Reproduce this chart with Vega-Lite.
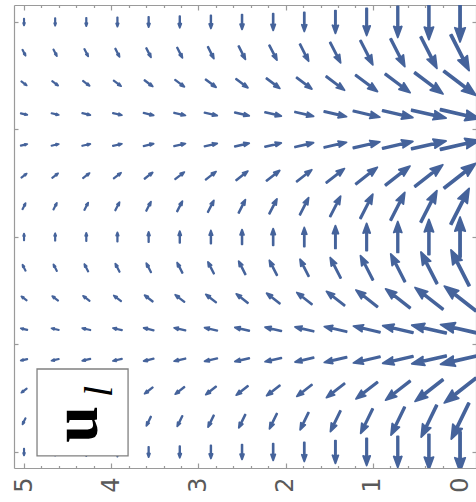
{
  "$schema": "https://vega.github.io/schema/vega-lite/v6.json",
  "width": 462,
  "height": 463,
  "autosize": {"type": "none"},
  "padding": {"left": 14, "top": 5, "right": 0, "bottom": 34},
  "background": "white",
  "config": {
    "view": {"stroke": null},
    "axis": {
      "domainColor": "#9a9a9a",
      "domainWidth": 1.2,
      "tickColor": "#9a9a9a",
      "tickWidth": 1.2,
      "grid": false,
      "title": null
    }
  },
  "layer": [
    {
      "data": {"values": [
        {"x":5,"y":4,"dir":180,"mag":0.167},{"x":4.643,"y":4,"dir":180,"mag":0.186},{"x":4.286,"y":4,"dir":180,"mag":0.207},{"x":3.929,"y":4,"dir":180,"mag":0.231},{"x":3.571,"y":4,"dir":180,"mag":0.257},{"x":3.214,"y":4,"dir":180,"mag":0.29},{"x":2.857,"y":4,"dir":180,"mag":0.326},{"x":2.5,"y":4,"dir":180,"mag":0.369},{"x":2.143,"y":4,"dir":180,"mag":0.417},{"x":1.786,"y":4,"dir":180,"mag":0.476},{"x":1.429,"y":4,"dir":180,"mag":0.571},{"x":1.071,"y":4,"dir":180,"mag":0.679},{"x":0.714,"y":4,"dir":180,"mag":0.774},{"x":0.357,"y":4,"dir":180,"mag":0.881},{"x":0,"y":4,"dir":180,"mag":1},
        {"x":5,"y":3.714,"dir":153,"mag":0.167},{"x":4.643,"y":3.714,"dir":153,"mag":0.186},{"x":4.286,"y":3.714,"dir":153,"mag":0.207},{"x":3.929,"y":3.714,"dir":153,"mag":0.231},{"x":3.571,"y":3.714,"dir":153,"mag":0.257},{"x":3.214,"y":3.714,"dir":153,"mag":0.29},{"x":2.857,"y":3.714,"dir":153,"mag":0.326},{"x":2.5,"y":3.714,"dir":153,"mag":0.369},{"x":2.143,"y":3.714,"dir":153,"mag":0.417},{"x":1.786,"y":3.714,"dir":153,"mag":0.476},{"x":1.429,"y":3.714,"dir":153,"mag":0.571},{"x":1.071,"y":3.714,"dir":153,"mag":0.679},{"x":0.714,"y":3.714,"dir":153,"mag":0.774},{"x":0.357,"y":3.714,"dir":153,"mag":0.881},{"x":0,"y":3.714,"dir":153,"mag":1},
        {"x":5,"y":3.429,"dir":127,"mag":0.167},{"x":4.643,"y":3.429,"dir":127,"mag":0.186},{"x":4.286,"y":3.429,"dir":127,"mag":0.207},{"x":3.929,"y":3.429,"dir":127,"mag":0.231},{"x":3.571,"y":3.429,"dir":127,"mag":0.257},{"x":3.214,"y":3.429,"dir":127,"mag":0.29},{"x":2.857,"y":3.429,"dir":127,"mag":0.326},{"x":2.5,"y":3.429,"dir":127,"mag":0.369},{"x":2.143,"y":3.429,"dir":127,"mag":0.417},{"x":1.786,"y":3.429,"dir":127,"mag":0.476},{"x":1.429,"y":3.429,"dir":127,"mag":0.571},{"x":1.071,"y":3.429,"dir":127,"mag":0.679},{"x":0.714,"y":3.429,"dir":127,"mag":0.774},{"x":0.357,"y":3.429,"dir":127,"mag":0.881},{"x":0,"y":3.429,"dir":127,"mag":1},
        {"x":5,"y":3.143,"dir":103,"mag":0.167},{"x":4.643,"y":3.143,"dir":103,"mag":0.186},{"x":4.286,"y":3.143,"dir":103,"mag":0.207},{"x":3.929,"y":3.143,"dir":103,"mag":0.231},{"x":3.571,"y":3.143,"dir":103,"mag":0.257},{"x":3.214,"y":3.143,"dir":103,"mag":0.29},{"x":2.857,"y":3.143,"dir":103,"mag":0.326},{"x":2.5,"y":3.143,"dir":103,"mag":0.369},{"x":2.143,"y":3.143,"dir":103,"mag":0.417},{"x":1.786,"y":3.143,"dir":103,"mag":0.476},{"x":1.429,"y":3.143,"dir":103,"mag":0.571},{"x":1.071,"y":3.143,"dir":103,"mag":0.679},{"x":0.714,"y":3.143,"dir":103,"mag":0.774},{"x":0.357,"y":3.143,"dir":103,"mag":0.881},{"x":0,"y":3.143,"dir":103,"mag":1},
        {"x":5,"y":2.857,"dir":77,"mag":0.167},{"x":4.643,"y":2.857,"dir":77,"mag":0.186},{"x":4.286,"y":2.857,"dir":77,"mag":0.207},{"x":3.929,"y":2.857,"dir":77,"mag":0.231},{"x":3.571,"y":2.857,"dir":77,"mag":0.257},{"x":3.214,"y":2.857,"dir":77,"mag":0.29},{"x":2.857,"y":2.857,"dir":77,"mag":0.326},{"x":2.5,"y":2.857,"dir":77,"mag":0.369},{"x":2.143,"y":2.857,"dir":77,"mag":0.417},{"x":1.786,"y":2.857,"dir":77,"mag":0.476},{"x":1.429,"y":2.857,"dir":77,"mag":0.571},{"x":1.071,"y":2.857,"dir":77,"mag":0.679},{"x":0.714,"y":2.857,"dir":77,"mag":0.774},{"x":0.357,"y":2.857,"dir":77,"mag":0.881},{"x":0,"y":2.857,"dir":77,"mag":1},
        {"x":5,"y":2.571,"dir":52,"mag":0.167},{"x":4.643,"y":2.571,"dir":52,"mag":0.186},{"x":4.286,"y":2.571,"dir":52,"mag":0.207},{"x":3.929,"y":2.571,"dir":52,"mag":0.231},{"x":3.571,"y":2.571,"dir":52,"mag":0.257},{"x":3.214,"y":2.571,"dir":52,"mag":0.29},{"x":2.857,"y":2.571,"dir":52,"mag":0.326},{"x":2.5,"y":2.571,"dir":52,"mag":0.369},{"x":2.143,"y":2.571,"dir":52,"mag":0.417},{"x":1.786,"y":2.571,"dir":52,"mag":0.476},{"x":1.429,"y":2.571,"dir":52,"mag":0.571},{"x":1.071,"y":2.571,"dir":52,"mag":0.679},{"x":0.714,"y":2.571,"dir":52,"mag":0.774},{"x":0.357,"y":2.571,"dir":52,"mag":0.881},{"x":0,"y":2.571,"dir":52,"mag":1},
        {"x":5,"y":2.286,"dir":27,"mag":0.167},{"x":4.643,"y":2.286,"dir":27,"mag":0.186},{"x":4.286,"y":2.286,"dir":27,"mag":0.207},{"x":3.929,"y":2.286,"dir":27,"mag":0.231},{"x":3.571,"y":2.286,"dir":27,"mag":0.257},{"x":3.214,"y":2.286,"dir":27,"mag":0.29},{"x":2.857,"y":2.286,"dir":27,"mag":0.326},{"x":2.5,"y":2.286,"dir":27,"mag":0.369},{"x":2.143,"y":2.286,"dir":27,"mag":0.417},{"x":1.786,"y":2.286,"dir":27,"mag":0.476},{"x":1.429,"y":2.286,"dir":27,"mag":0.571},{"x":1.071,"y":2.286,"dir":27,"mag":0.679},{"x":0.714,"y":2.286,"dir":27,"mag":0.774},{"x":0.357,"y":2.286,"dir":27,"mag":0.881},{"x":0,"y":2.286,"dir":27,"mag":1},
        {"x":5,"y":2,"dir":0,"mag":0.167},{"x":4.643,"y":2,"dir":0,"mag":0.186},{"x":4.286,"y":2,"dir":0,"mag":0.207},{"x":3.929,"y":2,"dir":0,"mag":0.231},{"x":3.571,"y":2,"dir":0,"mag":0.257},{"x":3.214,"y":2,"dir":0,"mag":0.29},{"x":2.857,"y":2,"dir":0,"mag":0.326},{"x":2.5,"y":2,"dir":0,"mag":0.369},{"x":2.143,"y":2,"dir":0,"mag":0.417},{"x":1.786,"y":2,"dir":0,"mag":0.476},{"x":1.429,"y":2,"dir":0,"mag":0.571},{"x":1.071,"y":2,"dir":0,"mag":0.679},{"x":0.714,"y":2,"dir":0,"mag":0.774},{"x":0.357,"y":2,"dir":0,"mag":0.881},{"x":0,"y":2,"dir":0,"mag":1},
        {"x":5,"y":1.714,"dir":333,"mag":0.167},{"x":4.643,"y":1.714,"dir":333,"mag":0.186},{"x":4.286,"y":1.714,"dir":333,"mag":0.207},{"x":3.929,"y":1.714,"dir":333,"mag":0.231},{"x":3.571,"y":1.714,"dir":333,"mag":0.257},{"x":3.214,"y":1.714,"dir":333,"mag":0.29},{"x":2.857,"y":1.714,"dir":333,"mag":0.326},{"x":2.5,"y":1.714,"dir":333,"mag":0.369},{"x":2.143,"y":1.714,"dir":333,"mag":0.417},{"x":1.786,"y":1.714,"dir":333,"mag":0.476},{"x":1.429,"y":1.714,"dir":333,"mag":0.571},{"x":1.071,"y":1.714,"dir":333,"mag":0.679},{"x":0.714,"y":1.714,"dir":333,"mag":0.774},{"x":0.357,"y":1.714,"dir":333,"mag":0.881},{"x":0,"y":1.714,"dir":333,"mag":1},
        {"x":5,"y":1.429,"dir":308,"mag":0.167},{"x":4.643,"y":1.429,"dir":308,"mag":0.186},{"x":4.286,"y":1.429,"dir":308,"mag":0.207},{"x":3.929,"y":1.429,"dir":308,"mag":0.231},{"x":3.571,"y":1.429,"dir":308,"mag":0.257},{"x":3.214,"y":1.429,"dir":308,"mag":0.29},{"x":2.857,"y":1.429,"dir":308,"mag":0.326},{"x":2.5,"y":1.429,"dir":308,"mag":0.369},{"x":2.143,"y":1.429,"dir":308,"mag":0.417},{"x":1.786,"y":1.429,"dir":308,"mag":0.476},{"x":1.429,"y":1.429,"dir":308,"mag":0.571},{"x":1.071,"y":1.429,"dir":308,"mag":0.679},{"x":0.714,"y":1.429,"dir":308,"mag":0.774},{"x":0.357,"y":1.429,"dir":308,"mag":0.881},{"x":0,"y":1.429,"dir":308,"mag":1},
        {"x":5,"y":1.143,"dir":283,"mag":0.167},{"x":4.643,"y":1.143,"dir":283,"mag":0.186},{"x":4.286,"y":1.143,"dir":283,"mag":0.207},{"x":3.929,"y":1.143,"dir":283,"mag":0.231},{"x":3.571,"y":1.143,"dir":283,"mag":0.257},{"x":3.214,"y":1.143,"dir":283,"mag":0.29},{"x":2.857,"y":1.143,"dir":283,"mag":0.326},{"x":2.5,"y":1.143,"dir":283,"mag":0.369},{"x":2.143,"y":1.143,"dir":283,"mag":0.417},{"x":1.786,"y":1.143,"dir":283,"mag":0.476},{"x":1.429,"y":1.143,"dir":283,"mag":0.571},{"x":1.071,"y":1.143,"dir":283,"mag":0.679},{"x":0.714,"y":1.143,"dir":283,"mag":0.774},{"x":0.357,"y":1.143,"dir":283,"mag":0.881},{"x":0,"y":1.143,"dir":283,"mag":1},
        {"x":5,"y":0.857,"dir":257,"mag":0.167},{"x":4.643,"y":0.857,"dir":257,"mag":0.186},{"x":4.286,"y":0.857,"dir":257,"mag":0.207},{"x":3.929,"y":0.857,"dir":257,"mag":0.231},{"x":3.571,"y":0.857,"dir":257,"mag":0.257},{"x":3.214,"y":0.857,"dir":257,"mag":0.29},{"x":2.857,"y":0.857,"dir":257,"mag":0.326},{"x":2.5,"y":0.857,"dir":257,"mag":0.369},{"x":2.143,"y":0.857,"dir":257,"mag":0.417},{"x":1.786,"y":0.857,"dir":257,"mag":0.476},{"x":1.429,"y":0.857,"dir":257,"mag":0.571},{"x":1.071,"y":0.857,"dir":257,"mag":0.679},{"x":0.714,"y":0.857,"dir":257,"mag":0.774},{"x":0.357,"y":0.857,"dir":257,"mag":0.881},{"x":0,"y":0.857,"dir":257,"mag":1},
        {"x":5,"y":0.571,"dir":232,"mag":0.167},{"x":4.643,"y":0.571,"dir":232,"mag":0.186},{"x":4.286,"y":0.571,"dir":232,"mag":0.207},{"x":3.929,"y":0.571,"dir":232,"mag":0.231},{"x":3.571,"y":0.571,"dir":232,"mag":0.257},{"x":3.214,"y":0.571,"dir":232,"mag":0.29},{"x":2.857,"y":0.571,"dir":232,"mag":0.326},{"x":2.5,"y":0.571,"dir":232,"mag":0.369},{"x":2.143,"y":0.571,"dir":232,"mag":0.417},{"x":1.786,"y":0.571,"dir":232,"mag":0.476},{"x":1.429,"y":0.571,"dir":232,"mag":0.571},{"x":1.071,"y":0.571,"dir":232,"mag":0.679},{"x":0.714,"y":0.571,"dir":232,"mag":0.774},{"x":0.357,"y":0.571,"dir":232,"mag":0.881},{"x":0,"y":0.571,"dir":232,"mag":1},
        {"x":5,"y":0.286,"dir":206,"mag":0.167},{"x":4.643,"y":0.286,"dir":206,"mag":0.186},{"x":4.286,"y":0.286,"dir":206,"mag":0.207},{"x":3.929,"y":0.286,"dir":206,"mag":0.231},{"x":3.571,"y":0.286,"dir":206,"mag":0.257},{"x":3.214,"y":0.286,"dir":206,"mag":0.29},{"x":2.857,"y":0.286,"dir":206,"mag":0.326},{"x":2.5,"y":0.286,"dir":206,"mag":0.369},{"x":2.143,"y":0.286,"dir":206,"mag":0.417},{"x":1.786,"y":0.286,"dir":206,"mag":0.476},{"x":1.429,"y":0.286,"dir":206,"mag":0.571},{"x":1.071,"y":0.286,"dir":206,"mag":0.679},{"x":0.714,"y":0.286,"dir":206,"mag":0.774},{"x":0.357,"y":0.286,"dir":206,"mag":0.881},{"x":0,"y":0.286,"dir":206,"mag":1},
        {"x":5,"y":0,"dir":180,"mag":0.167},{"x":4.643,"y":0,"dir":180,"mag":0.186},{"x":4.286,"y":0,"dir":180,"mag":0.207},{"x":3.929,"y":0,"dir":180,"mag":0.231},{"x":3.571,"y":0,"dir":180,"mag":0.257},{"x":3.214,"y":0,"dir":180,"mag":0.29},{"x":2.857,"y":0,"dir":180,"mag":0.326},{"x":2.5,"y":0,"dir":180,"mag":0.369},{"x":2.143,"y":0,"dir":180,"mag":0.417},{"x":1.786,"y":0,"dir":180,"mag":0.476},{"x":1.429,"y":0,"dir":180,"mag":0.571},{"x":1.071,"y":0,"dir":180,"mag":0.679},{"x":0.714,"y":0,"dir":180,"mag":0.774},{"x":0.357,"y":0,"dir":180,"mag":0.881},{"x":0,"y":0,"dir":180,"mag":1}
      ]},
      "mark": {
        "type": "point",
        "clip": true,
        "shape": "M-0.05,1L0.05,1L0.05,-0.36L0.26,-0.29L0,-1L-0.26,-0.29L-0.05,-0.36Z",
        "filled": true,
        "opacity": 1,
        "color": "#45639b",
        "stroke": "#45639b",
        "strokeWidth": 1.8,
        "strokeJoin": "round"
      },
      "encoding": {
        "x": {
          "field": "x", "type": "quantitative",
          "scale": {"domain": [-0.183, 5.115], "reverse": true, "nice": false, "zero": false},
          "axis": {
            "orient": "bottom", "values": [0, 1, 2, 3, 4, 5],
            "ticks": false, "domain": false,
            "labelAngle": 270, "labelPadding": 9, "labelFontSize": 24,
            "labelFont": "DejaVu Sans", "labelColor": "#5a5a5a",
            "labelFlush": false, "labelOverlap": false
          }
        },
        "y": {
          "field": "y", "type": "quantitative",
          "scale": {"domain": [-0.149, 4.158], "nice": false, "zero": false},
          "axis": {"orient": "left", "values": [0, 1, 2, 3, 4], "labels": false, "tickSize": -4}
        },
        "angle": {"field": "dir", "type": "quantitative", "scale": null},
        "size": {
          "field": "mag", "type": "quantitative",
          "scale": {"type": "pow", "exponent": 2, "domain": [0, 1], "range": [0, 1600]},
          "legend": null
        }
      }
    },
    {
      "data": {"values": [{}]},
      "mark": {"type": "rect", "fill": "white", "stroke": "#808080", "strokeWidth": 1.3},
      "encoding": {
        "x": {
          "datum": 4.851, "type": "quantitative",
          "axis": {
            "orient": "bottom", "labels": false,
            "values": [0,0.2,0.4,0.6,0.8,1,1.2,1.4,1.6,1.8,2,2.2,2.4,2.6,2.8,3,3.2,3.4,3.6,3.8,4,4.2,4.4,4.6,4.8,5],
            "tickSize": {"condition": {"test": "abs(datum.value - round(datum.value)) < 0.01", "value": -5}, "value": -2.5}
          }
        },
        "x2": {"datum": 3.807},
        "y": {
          "datum": 0.772, "type": "quantitative",
          "axis": {"orient": "right", "values": [0, 1, 2, 3, 4], "labels": false, "tickSize": -4}
        },
        "y2": {"datum": -0.037}
      }
    },
    {
      "data": {"values": [{}]},
      "mark": {
        "type": "text", "text": "u", "font": "Liberation Serif", "fontWeight": "bold",
        "fontSize": 66, "angle": 270, "align": "center", "baseline": "middle", "color": "black"
      },
      "encoding": {
        "x": {
          "datum": 4.396, "type": "quantitative",
          "axis": {
            "orient": "top", "labels": false,
            "values": [0,0.2,0.4,0.6,0.8,1,1.2,1.4,1.6,1.8,2,2.2,2.4,2.6,2.8,3,3.2,3.4,3.6,3.8,4,4.2,4.4,4.6,4.8,5],
            "tickSize": {"condition": {"test": "abs(datum.value - round(datum.value)) < 0.01", "value": -5}, "value": -2.5}
          }
        },
        "y": {"datum": 0.256, "type": "quantitative", "axis": null}
      }
    },
    {
      "data": {"values": [{}]},
      "mark": {
        "type": "text", "text": "l", "font": "Liberation Serif", "fontStyle": "italic",
        "fontSize": 40, "angle": 270, "align": "center", "baseline": "middle", "color": "black"
      },
      "encoding": {
        "x": {"datum": 4.128, "type": "quantitative", "axis": null},
        "y": {"datum": 0.563, "type": "quantitative", "axis": null}
      }
    }
  ],
  "resolve": {"axis": {"x": "independent", "y": "independent"}}
}
